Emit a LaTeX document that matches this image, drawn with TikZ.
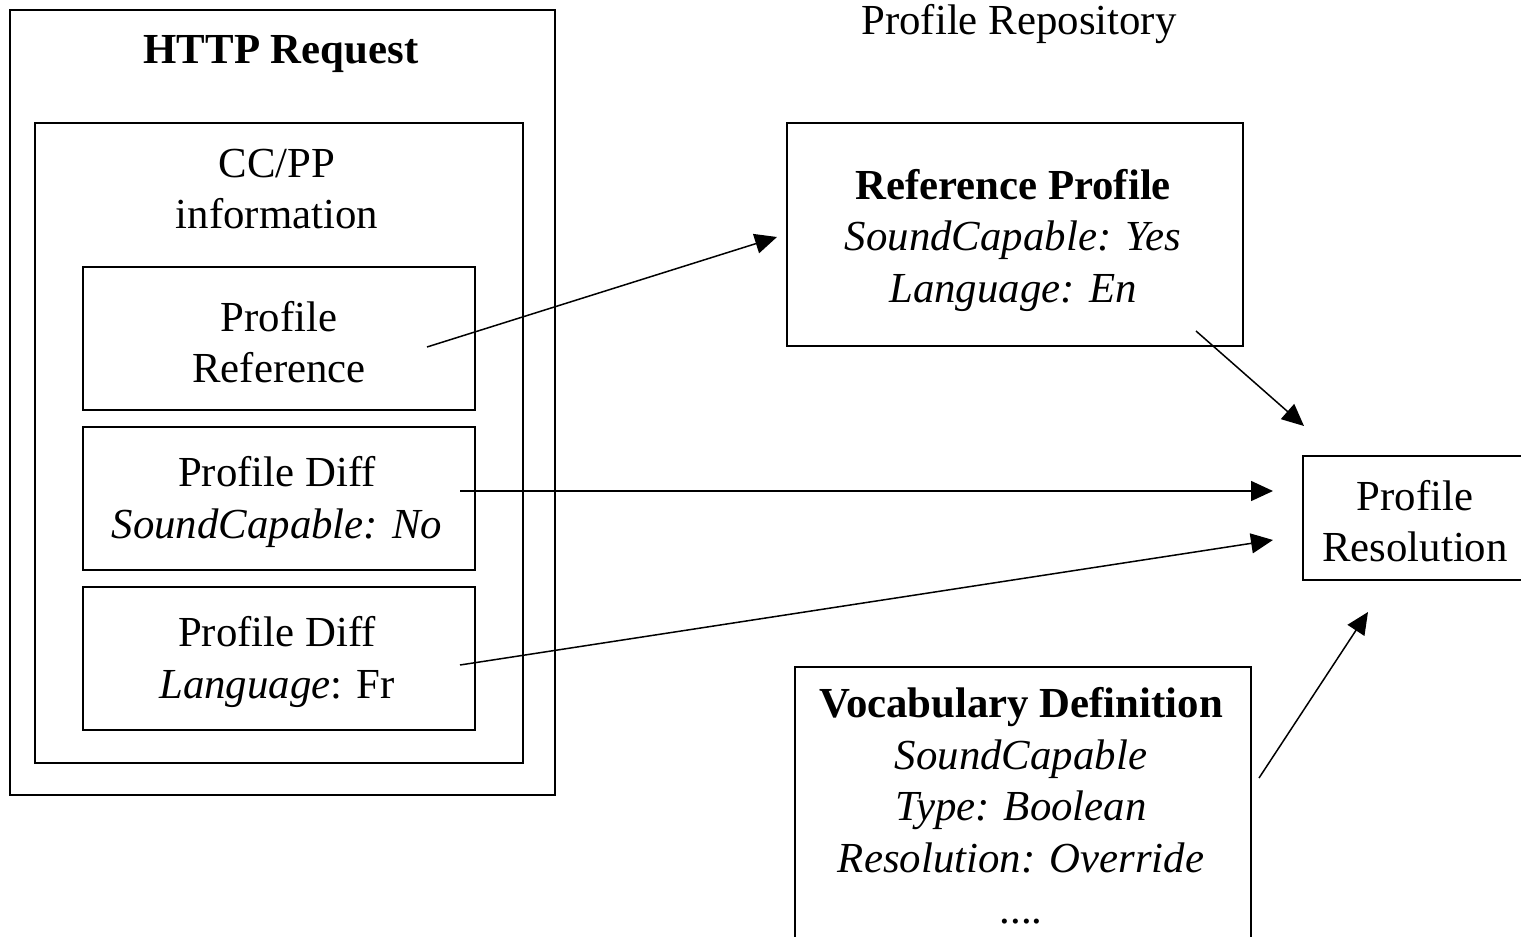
\documentclass[tikz,border=0pt]{standalone}
\usepackage{fontspec}
\setmainfont{Liberation Serif}
\usetikzlibrary{arrows.meta}
\begin{document}
\begin{tikzpicture}[x=0.5pt,y=-0.5pt,
  every node/.style={font=\fontsize{21.4}{25.75}\selectfont, inner sep=0pt, align=center},
  box/.style={draw, line width=1pt, rectangle},
  conn/.style={line width=0.75pt, -{Triangle[length=11pt,width=10pt]}}]
\useasboundingbox (0,0) rectangle (1521,937);
% containers
\node[box, minimum width=272.5pt, minimum height=392.5pt] (http) at (282.5,402.5) {};
\node (httpt) at (281,54) {\bfseries HTTP Request};
\node[box, minimum width=244pt, minimum height=320pt] (ccpp) at (279,443) {};
\node (ccppt) at (277,189) {CC/PP\\information};
% inner boxes
\node[box, minimum width=196pt, minimum height=71.5pt] (pref) at (279,338.5) {};
\node (preft) at (279,342) {Profile\\Reference};
\node[box, minimum width=196pt, minimum height=71.5pt] (pd1) at (279,498.5) {};
\node (pd1t) at (277,502) {Profile Diff\\\itshape SoundCapable: No};
\node[box, minimum width=196pt, minimum height=71.5pt] (pd2) at (279,658.5) {};
\node (pd2t) at (277,662) {Profile Diff\\\textit{Language}: Fr};
% right side
\node (repo) at (1019,24) {Profile Repository};
\node[box, minimum width=228pt, minimum height=111.5pt] (refp) at (1015,234.5) {};
\node (refpt) at (1013,240) {\bfseries Reference Profile\\\itshape SoundCapable: Yes\\\itshape Language: En};
\node[box, minimum width=112pt, minimum height=62pt] (res) at (1415,518) {};
\node (rest) at (1415,521) {Profile\\Resolution};
\node[box, minimum width=228pt, minimum height=160pt] (voc) at (1023,827) {};
\node (voct) at (1021,806) {\bfseries Vocabulary Definition\\\itshape SoundCapable\\\itshape Type: Boolean\\\itshape Resolution: Override\\....};
% connector ends
\coordinate (a1s) at (427,347);
\coordinate (a1e) at (777,237);
\coordinate (a2s) at (460,491);
\coordinate (a2e) at (1273,491);
\coordinate (a3s) at (460,665);
\coordinate (a3e) at (1273,540);
\coordinate (a4s) at (1196,331);
\coordinate (a4e) at (1304,426);
\coordinate (a5s) at (1259,778);
\coordinate (a5e) at (1368,612);
\draw[conn] (a1s) -- (a1e);
\draw[conn] (a2s) -- (a2e);
\draw[conn] (a3s) -- (a3e);
\draw[conn] (a4s) -- (a4e);
\draw[conn] (a5s) -- (a5e);
\end{tikzpicture}
\end{document}
